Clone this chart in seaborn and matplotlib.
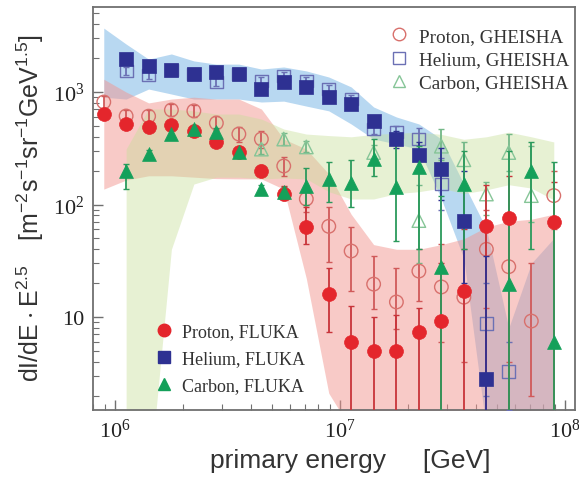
import numpy as np
import pandas as pd
import matplotlib
matplotlib.use("Agg")
import matplotlib.pyplot as plt
from matplotlib.lines import Line2D
from matplotlib.ticker import FixedLocator, FixedFormatter, NullFormatter
import seaborn as sns

nan = np.nan

# bin centres of primary energy [GeV]
energy = [8.91e5, 1.12e6, 1.41e6, 1.78e6, 2.24e6, 2.82e6, 3.55e6, 4.47e6, 5.62e6, 7.08e6,
          8.91e6, 1.12e7, 1.41e7, 1.78e7, 2.24e7, 2.82e7, 3.55e7, 4.47e7, 5.62e7, 7.08e7, 8.91e7]

# ---- FLUKA (filled markers) ----
p_fluka = [637, 520, 490, 510, 450, 360, 295, 200, 125, 63, 16, 6.0, 5.0, 5.0, 7.4, 9.2, 17, 64, 76, nan, 70]
p_fluka_lo = [590, 480, 455, 470, 415, 330, 270, 180, 110, 45, 7.4, 0.5, 0.5, 0.5, 0.5, 0.5, 0.5, 0.5, 0.5, nan, 0.5]
p_fluka_hi = [690, 565, 530, 555, 490, 395, 325, 225, 145, 95, 27, 12.5, 10, 10.5, 12, 30, 60, 150, 180, nan, 160]

he_fluka = [nan, 1960, 1700, 1570, 1445, 1505, 1445, 1063, 1227, 1108, 903, 782, 553, 380, 275, 207, 71, 2.8, nan, nan, nan]
he_fluka_lo = [nan, 1820, 1580, 1460, 1340, 1400, 1340, 980, 1130, 1020, 830, 710, 500, 320, 200, 110, 20, 0.5, nan, nan, nan]
he_fluka_hi = [nan, 2110, 1830, 1690, 1560, 1620, 1560, 1150, 1330, 1200, 980, 860, 610, 450, 360, 320, 200, 35, nan, nan, nan]

c_fluka = [nan, 199, 281, 423, 469, 441, 293, 137, 129, 146, 169, 155, 254, 143, 215, 28, 152, nan, 19.7, 199, 6.0]
c_fluka_lo = [nan, 137, 260, 395, 435, 410, 270, 125, 115, 100, 105, 95, 180, 47, 40, 0.5, 40, nan, 0.5, 40, 0.5]
c_fluka_hi = [nan, 230, 305, 455, 505, 475, 318, 150, 143, 210, 240, 250, 380, 360, 330, 120, 300, nan, 300, 360, 240]

# ---- GHEISHA (open markers) ----
p_gheisha = [815, 612, 610, 692, 680, 530, 423, 382, 220, 112, 64, 38.6, 19.6, 13.6, 25.6, 18.5, 15, 40, 28, 9.2, 120]
p_gheisha_lo = [720, 545, 540, 610, 600, 460, 360, 320, 180, 85, 31, 17, 11.7, 7.8, 14, 6, 4, 12, 4, 2, 60]
p_gheisha_hi = [920, 690, 690, 790, 770, 610, 490, 450, 265, 145, 95, 63, 35, 27, 40, 45, 40, 90, 70, 30, 200]

he_gheisha = [nan, 1537, 1415, 1570, 1445, 1227, 1445, 1253, 1388, 1253, 1063, 866, 469, 441, 382, 152, nan, 8.7, 3.3, nan, nan]
he_gheisha_lo = [nan, 1420, 1300, 1460, 1340, 1130, 1340, 1150, 1280, 1150, 980, 790, 420, 390, 300, 90, nan, 2, 1.5, nan, nan]
he_gheisha_hi = [nan, 1660, 1530, 1690, 1560, 1330, 1560, 1360, 1500, 1360, 1150, 950, 525, 500, 480, 260, nan, 20, 6, nan, nan]

c_gheisha = [nan, nan, nan, nan, nan, nan, nan, 311, 382, 325, nan, nan, 290, nan, 72, 330, 250, 124, 290, 120, nan]
c_gheisha_lo = [nan, nan, nan, nan, nan, nan, nan, 280, 340, 290, nan, nan, 250, nan, 30, 250, 150, 80, 200, 70, nan]
c_gheisha_hi = [nan, nan, nan, nan, nan, nan, nan, 345, 430, 365, nan, nan, 340, nan, 150, 470, 360, 160, 420, 330, nan]

# ---- shaded bands ----
he_band_lo = [900, 866, 1063, 960, 866, 866, 866, 815, 830, 750, 680, 520, 382, 345, 311, 112, 33, 1, 1, 1, 1]
he_band_hi = [3700, 2670, 1960, 2180, 1890, 1770, 1770, 1600, 1670, 1540, 1360, 1110, 736, 600, 520, 382, 152, 61, 8, 30, 50]

p_band_lo = [137, 165, 180, 180, 175, 170, 169, 169, 137, 22, 2.1, 1, 1, 1, 1, 1, 1, 1, 1, 1, 1]
p_band_hi = [1300, 1000, 800, 866, 900, 866, 866, 706, 382, 311, 187, 82, 44, 40, 40, 44, 49.6, 63, 71, 74, 82]

c_band_lo = [nan, 0.3, 0.3, 40, 152, 175, 175, 169, 172, 169, 130, 112, 112, 125, 130, 140, 125, 135, 150, 140, 110]
c_band_hi = [nan, 311, 706, 706, 680, 637, 637, 575, 469, 423, 410, 400, 420, 430, 440, 420, 380, 400, 440, 400, 360]

legend_gheisha = ["Proton, GHEISHA", "Helium, GHEISHA", "Carbon, GHEISHA"]
legend_fluka = ["Proton, FLUKA", "Helium, FLUKA", "Carbon, FLUKA"]

RED, BLUE, GREEN = "#e4262c", "#2e3192", "#14a05a"
RED_O, BLUE_O, GREEN_O = "#d8706c", "#6b70b4", "#86c597"

sns.set_style("ticks")
plt.rcParams.update({
    "font.family": ["Liberation Serif", "DejaVu Serif"],
    "axes.edgecolor": "#707070",
    "axes.linewidth": 1.3,
    "xtick.direction": "in", "ytick.direction": "in",
    "xtick.color": "#707070", "ytick.color": "#707070",
    "xtick.labelcolor": "#222222", "ytick.labelcolor": "#222222",
})

fig = plt.figure(figsize=(5.79, 4.81), dpi=100)
ax = fig.add_axes([93 / 579, 70 / 481, 482 / 579, 403 / 481])
ax.set_xscale("log")
ax.set_yscale("log")

E = np.array(energy, float)


def band(lo, hi, color, alpha):
    lo = np.array(lo, float)
    hi = np.array(hi, float)
    m = ~np.isnan(lo)
    ax.fill_between(E[m], lo[m], hi[m], color=color, alpha=alpha, lw=0, zorder=1)


band(he_band_lo, he_band_hi, "#7fb8e6", 0.55)
band(p_band_lo, p_band_hi, "#f29690", 0.5)
band(c_band_lo, c_band_hi, "#c6df98", 0.42)


def series(vals, lo, hi, marker, color, ecolor, filled, size, z):
    v = np.array(vals, float)
    l = np.array(lo, float)
    h = np.array(hi, float)
    m = ~np.isnan(v)
    ax.errorbar(E[m], v[m], yerr=[v[m] - l[m], h[m] - v[m]], fmt="none",
                ecolor=ecolor, elinewidth=1.3, capsize=2, capthick=1.0, zorder=z)
    df = pd.DataFrame({"E": E[m], "flux": v[m]})
    if filled:
        sns.scatterplot(data=df, x="E", y="flux", marker=marker, s=size, color=color,
                        edgecolor=color, linewidth=0.5, ax=ax, zorder=z + 1, legend=False)
    else:
        sns.scatterplot(data=df, x="E", y="flux", marker=marker, s=size, facecolor="none",
                        edgecolor=color, linewidth=1.0, ax=ax, zorder=z + 1, legend=False)


series(p_gheisha, p_gheisha_lo, p_gheisha_hi, "o", RED_O, "#d05a5a", False, 95, 3)
series(he_gheisha, he_gheisha_lo, he_gheisha_hi, "s", BLUE_O, "#6b70b4", False, 85, 3)
series(c_gheisha, c_gheisha_lo, c_gheisha_hi, "^", GREEN_O, "#74b888", False, 95, 3)
series(p_fluka, p_fluka_lo, p_fluka_hi, "o", RED, "#c8343a", True, 100, 5)
series(he_fluka, he_fluka_lo, he_fluka_hi, "s", BLUE, BLUE, True, 90, 5)
series(c_fluka, c_fluka_lo, c_fluka_hi, "^", GREEN, "#2b9a5c", True, 100, 5)

ax.set_xlim(7.98e5, 1.107e8)
ax.set_ylim(1.49, 5700)

# ticks
ax.xaxis.set_major_locator(FixedLocator([1e6, 1e7, 1e8]))
ax.xaxis.set_major_formatter(FixedFormatter([r"$\mathregular{10^{6}}$", r"$\mathregular{10^{7}}$",
                                             r"$\mathregular{10^{8}}$"]))
ax.xaxis.set_minor_locator(FixedLocator([m * 10.0 ** d for d in (5, 6, 7) for m in range(2, 10)]))
ax.xaxis.set_minor_formatter(NullFormatter())
ax.yaxis.set_major_locator(FixedLocator([10, 100, 1000]))
ax.yaxis.set_major_formatter(FixedFormatter(["10", r"$\mathregular{10^{2}}$", r"$\mathregular{10^{3}}$"]))
ax.yaxis.set_minor_locator(FixedLocator([m * 10.0 ** d for d in (0, 1, 2, 3) for m in range(2, 10)]))
ax.yaxis.set_minor_formatter(NullFormatter())
ax.tick_params(which="major", length=7, width=1.0, labelsize=16, pad=6)
ax.tick_params(which="minor", length=4, width=0.8)
ax.tick_params(top=False, right=False, which="both")
ax.set_xlabel("")
ax.set_ylabel("")

sans = ["Liberation Sans", "DejaVu Sans"]
fig.text(350 / 579, 1 - 461 / 481, "primary energy     [GeV]", fontsize=19, family=sans,
         color="#333333", ha="center", va="center")
fig.text(30 / 579, 1 - 208 / 481,
         r"$\mathregular{dI/dE \cdot E^{2.5}\ \ \ [m^{-2}s^{-1}sr^{-1}GeV^{1.5}]}$",
         fontsize=18, family=sans, color="#333333", rotation=90, ha="center", va="center")

# legends
h_g = [Line2D([], [], ls="none", marker="o", mfc="none", mec=RED_O, ms=9, mew=1.0),
       Line2D([], [], ls="none", marker="s", mfc="none", mec=BLUE_O, ms=8, mew=1.0),
       Line2D([], [], ls="none", marker="^", mfc="none", mec=GREEN_O, ms=9, mew=1.0)]
leg1 = ax.legend(h_g, legend_gheisha, loc="upper right", bbox_to_anchor=(0.995, 0.958),
                 frameon=False, fontsize=13.8, handlelength=0.8, handletextpad=0.6,
                 labelspacing=0.3, borderaxespad=0, borderpad=0.2)
for t in leg1.get_texts():
    t.set_color("#333333")
ax.add_artist(leg1)

h_f = [Line2D([], [], ls="none", marker="o", color=RED, ms=9),
       Line2D([], [], ls="none", marker="s", color=BLUE, ms=8),
       Line2D([], [], ls="none", marker="^", color=GREEN, ms=9)]
leg2 = ax.legend(h_f, legend_fluka, loc="lower left", bbox_to_anchor=(0.125, 0.03),
                 frameon=False, fontsize=13, handlelength=0.8, handletextpad=0.6,
                 labelspacing=0.55, borderaxespad=0, borderpad=0.2)
for t in leg2.get_texts():
    t.set_color("#333333")

fig.savefig("out.png", dpi=100)
